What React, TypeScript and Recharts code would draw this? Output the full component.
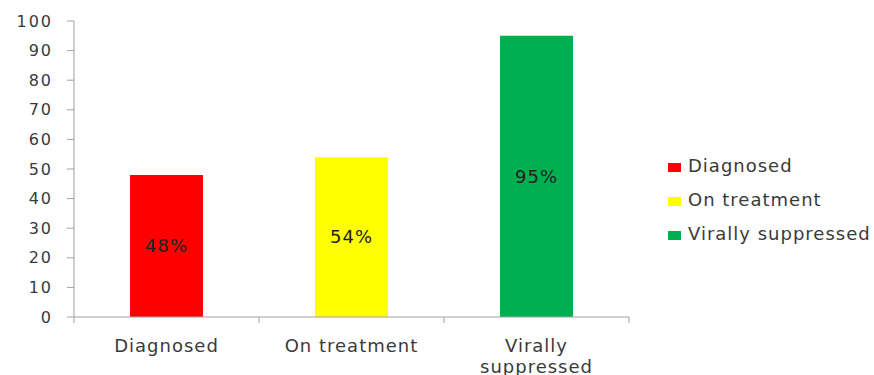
import React from 'react';
import { BarChart, Bar, XAxis, YAxis, Cell, LabelList } from 'recharts';

const categories = ['Diagnosed', 'On treatment', 'Virally suppressed'];
const values = [48, 54, 95];
const colors = ['#ff0000', '#ffff00', '#00b050'];
const yTicks = [0, 10, 20, 30, 40, 50, 60, 70, 80, 90, 100];

const WIDTH = 874;
const HEIGHT = 375;
const PLOT_LEFT = 74;
const PLOT_RIGHT = 629;
const PLOT_TOP = 21;
const PLOT_BOTTOM = 317;
const X_AXIS_HEIGHT = 50;
const MAX_LINE_CHARS = 14;

const FONT = '"DejaVu Sans", Verdana, sans-serif';
const TEXT_COLOR = '#3a3a3a';
const AXIS_COLOR = '#a0a0a0';

const data = categories.map((name, i) => ({ name, value: values[i] }));
const halfBand = (PLOT_RIGHT - PLOT_LEFT) / categories.length / 2;

const labelStyle = { fontSize: 18, fontFamily: FONT, letterSpacing: 1 };

// greedy word wrap, like the long category name in the original
const wrap = (label: string) => {
  const lines: string[] = [];
  label.split(' ').forEach((w) => {
    const last = lines[lines.length - 1];
    if (last && (last + ' ' + w).length <= MAX_LINE_CHARS) lines[lines.length - 1] = last + ' ' + w;
    else lines.push(w);
  });
  return lines;
};

// x ticks sit on the category boundaries, labels below the centre
const CategoryTick = (props: any) => {
  const { x, y, payload, index } = props;
  return (
    <g>
      <line x1={x - halfBand} x2={x - halfBand} y1={y} y2={y + 6} stroke={AXIS_COLOR} />
      {index === categories.length - 1 && (
        <line x1={x + halfBand} x2={x + halfBand} y1={y} y2={y + 6} stroke={AXIS_COLOR} />
      )}
      <text x={x} y={y + 35} textAnchor="middle" style={labelStyle} fill={TEXT_COLOR}>
        {wrap(String(payload.value)).map((line, i) => (
          <tspan key={i} x={x} dy={i === 0 ? 0 : 21}>
            {line}
          </tspan>
        ))}
      </text>
    </g>
  );
};

export default function App() {
  return (
    <div style={{ position: 'relative', width: WIDTH, height: HEIGHT, background: '#fff', overflow: 'hidden' }}>
      <style>{'body{margin:0}'}</style>
      <BarChart
        width={WIDTH}
        height={HEIGHT}
        data={data}
        margin={{
          top: PLOT_TOP,
          right: WIDTH - PLOT_RIGHT,
          bottom: HEIGHT - PLOT_BOTTOM - X_AXIS_HEIGHT,
          left: 0
        }}
      >
        <YAxis
          width={PLOT_LEFT}
          domain={[0, 100]}
          ticks={yTicks}
          interval={0}
          tickSize={7}
          tickMargin={14}
          stroke={AXIS_COLOR}
          tick={{ fontSize: 16, fontFamily: FONT, fill: TEXT_COLOR, letterSpacing: 2 }}
        />
        <XAxis
          dataKey="name"
          height={X_AXIS_HEIGHT}
          interval={0}
          tickLine={false}
          tickSize={0}
          tickMargin={0}
          stroke={AXIS_COLOR}
          tick={<CategoryTick />}
        />
        <Bar dataKey="value" barSize={73} isAnimationActive={false}>
          {data.map((d, i) => (
            <Cell key={d.name} fill={colors[i]} />
          ))}
          <LabelList
            dataKey="value"
            position="center"
            formatter={(v: any) => `${v}%`}
            style={{ ...labelStyle, fill: '#222222' }}
          />
        </Bar>
      </BarChart>
      <div style={{ position: 'absolute', left: 668, top: 148, fontFamily: FONT, fontSize: 18, letterSpacing: 1, color: TEXT_COLOR }}>
        {categories.map((c, i) => (
          <div key={c} style={{ display: 'flex', alignItems: 'center', height: 34, whiteSpace: 'nowrap' }}>
            <span
              style={{
                display: 'inline-block',
                width: 13,
                height: 9,
                background: colors[i],
                marginRight: 7,
                position: 'relative',
                top: 2
              }}
            />
            {c}
          </div>
        ))}
      </div>
    </div>
  );
}
